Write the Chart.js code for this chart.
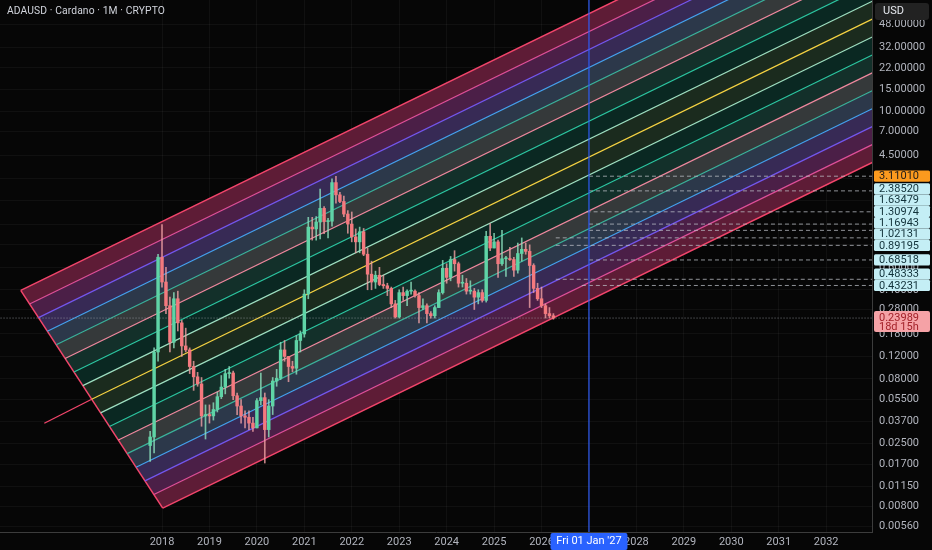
<!DOCTYPE html>
<html><head><meta charset="utf-8">
<script src="https://cdn.jsdelivr.net/npm/chart.js@4.4.1/dist/chart.umd.min.js"></script>
<style>
html,body{margin:0;padding:0;background:#060606;}
#wrap{position:relative;width:932px;height:550px;overflow:hidden;background:#060606;}
#title{position:absolute;left:7px;top:4px;font:10.3px Roboto,"Liberation Sans",sans-serif;color:#d1d4dc;white-space:nowrap;letter-spacing:0.1px;}
</style></head><body>
<div id="wrap"><canvas id="c" width="932" height="550"></canvas><div id="title">ADAUSD · Cardano · 1M · CRYPTO</div></div>
<script>
// ---------- data ----------
const months = [
 '2017-10','2017-11','2017-12',
 '2018-01','2018-02','2018-03','2018-04','2018-05','2018-06','2018-07','2018-08','2018-09','2018-10','2018-11','2018-12',
 '2019-01','2019-02','2019-03','2019-04','2019-05','2019-06','2019-07','2019-08','2019-09','2019-10','2019-11','2019-12',
 '2020-01','2020-02','2020-03','2020-04','2020-05','2020-06','2020-07','2020-08','2020-09','2020-10','2020-11','2020-12',
 '2021-01','2021-02','2021-03','2021-04','2021-05','2021-06','2021-07','2021-08','2021-09','2021-10','2021-11','2021-12',
 '2022-01','2022-02','2022-03','2022-04','2022-05','2022-06','2022-07','2022-08','2022-09','2022-10','2022-11','2022-12',
 '2023-01','2023-02','2023-03','2023-04','2023-05','2023-06','2023-07','2023-08','2023-09','2023-10','2023-11','2023-12',
 '2024-01','2024-02','2024-03','2024-04','2024-05','2024-06','2024-07','2024-08','2024-09','2024-10','2024-11','2024-12',
 '2025-01','2025-02','2025-03','2025-04','2025-05','2025-06','2025-07','2025-08','2025-09','2025-10','2025-11','2025-12',
 '2026-01','2026-02','2026-03','2026-04'];
const opens = [
 0.024,0.028,0.13,
 0.72,0.46,0.30,0.155,0.34,0.22,0.145,0.135,0.10,0.083,0.073,0.041,
 0.042,0.041,0.046,0.058,0.069,0.088,0.089,0.059,0.049,0.041,0.040,0.036,
 0.033,0.054,0.057,0.032,0.049,0.077,0.081,0.135,0.12,0.10,0.097,0.16,
 0.18,0.37,1.24,1.20,1.36,1.74,1.37,1.38,2.77,2.22,1.97,1.57,
 1.31,1.04,0.95,1.14,0.76,0.53,0.46,0.52,0.44,0.43,0.41,0.31,
 0.245,0.38,0.36,0.39,0.39,0.36,0.29,0.30,0.26,0.25,0.29,0.38,
 0.59,0.50,0.69,0.64,0.45,0.45,0.39,0.39,0.35,0.38,0.33,1.05,
 0.85,0.95,0.64,0.70,0.70,0.69,0.57,0.77,0.83,0.80,0.62,0.41,
 0.34,0.30,0.26,0.25];
const highs = [
 0.031,0.14,0.76,
 1.30,0.60,0.35,0.38,0.39,0.23,0.20,0.14,0.11,0.09,0.082,0.05,
 0.05,0.052,0.063,0.085,0.095,0.10,0.092,0.062,0.055,0.045,0.045,0.040,
 0.056,0.089,0.062,0.055,0.082,0.095,0.155,0.16,0.12,0.11,0.175,0.19,
 0.40,1.48,1.48,1.50,2.46,1.80,1.45,2.97,3.10,2.32,2.17,1.67,
 1.63,1.20,1.24,1.21,0.85,0.67,0.56,0.60,0.52,0.45,0.42,0.33,
 0.40,0.42,0.40,0.46,0.40,0.38,0.34,0.31,0.27,0.30,0.40,0.68,
 0.64,0.73,0.81,0.66,0.52,0.49,0.47,0.41,0.40,0.40,1.15,1.32,
 1.11,0.98,1.17,0.73,0.86,0.72,0.93,1.02,0.93,0.90,0.64,0.45,
 0.42,0.31,0.29,0.26];
const lows = [
 0.018,0.021,0.11,
 0.42,0.26,0.13,0.14,0.19,0.12,0.13,0.088,0.065,0.07,0.034,0.027,
 0.036,0.038,0.044,0.056,0.061,0.081,0.055,0.042,0.036,0.033,0.032,0.031,
 0.033,0.050,0.0175,0.028,0.042,0.070,0.079,0.11,0.076,0.091,0.087,0.13,
 0.17,0.34,0.98,0.98,1.00,1.10,1.02,1.26,1.91,1.93,1.50,1.11,
 0.95,0.78,0.78,0.74,0.40,0.40,0.41,0.43,0.41,0.36,0.29,0.24,
 0.24,0.33,0.30,0.37,0.35,0.22,0.28,0.22,0.24,0.24,0.29,0.37,
 0.45,0.47,0.56,0.42,0.42,0.37,0.37,0.28,0.31,0.32,0.32,0.81,
 0.85,0.50,0.62,0.51,0.68,0.51,0.54,0.67,0.76,0.29,0.38,0.33,
 0.29,0.24,0.24,0.235];
const closes = [
 0.028,0.13,0.72,
 0.46,0.30,0.155,0.34,0.22,0.145,0.135,0.10,0.083,0.073,0.041,0.042,
 0.041,0.046,0.058,0.069,0.088,0.089,0.059,0.049,0.041,0.040,0.036,0.033,
 0.054,0.057,0.032,0.049,0.077,0.081,0.135,0.12,0.10,0.097,0.16,0.18,
 0.37,1.24,1.20,1.36,1.74,1.37,1.38,2.77,2.22,1.97,1.57,1.31,
 1.04,0.95,1.14,0.76,0.53,0.46,0.52,0.44,0.43,0.41,0.31,0.245,
 0.38,0.36,0.39,0.39,0.36,0.29,0.30,0.26,0.25,0.29,0.38,0.59,
 0.50,0.69,0.64,0.45,0.45,0.39,0.39,0.35,0.38,0.33,1.05,0.85,
 0.95,0.64,0.70,0.70,0.69,0.57,0.77,0.83,0.80,0.62,0.41,0.34,
 0.30,0.26,0.25,0.23989];

const yearTicks = [2018,2019,2020,2021,2022,2023,2024,2025,2026,2027,2028,2029,2030,2031,2032];
const priceTicks = [48,32,22,15,10,7,4.5,3,2,1.3,0.9,0.6,0.4,0.28,0.18,0.12,0.08,0.055,0.037,0.025,0.017,0.0115,0.008,0.0056];

// rainbow channel: 17 parallel levels (top boundary first)
const channelStartTimes = [2015.022,2015.209,2015.396,2015.583,2015.770,2015.957,2016.144,2016.331,2016.518,2016.705,2016.892,2017.079,2017.266,2017.453,2017.641,2017.828,2018.015];
const channelStartPrices = [0.3953,0.3091,0.2418,0.1891,0.1480,0.1157,0.09052,0.07079,0.05538,0.04331,0.03388,0.02650,0.02073,0.01622,0.01268,0.00992,0.00776];
const channelEndTime = 2033;
const channelEndPrices = [715.7,517.8,374.6,270.9,196.0,141.8,102.6,74.24,53.70,38.85,28.11,20.33,14.71,10.64,7.699,5.570,4.030];
const channelColors = ['#f2456b','#e0509a','#7457ee','#45a3f0','#3bb39c','#f0899f','#2cc7a2','#9fe0c2','#f6d343','#9fe0c2','#2cc7a2','#f0899f','#3bb39c','#45a3f0','#7457ee','#e0509a','#f2456b'];
const bandColors = ['#5e1c36','#4b1f47','#372a55','#2c384a','#35393a','#13302a','#0a2822','#1b2b1e','#1b2b1e','#0a2822','#13302a','#35393a','#2c384a','#372a55','#4b1f47','#5e1c36'];
const trendExtTimes = [2015.519, 2016.518];
const trendExtPrices = [0.0359, 0.05538];

const levelPrices = [3.11010,2.38520,1.63479,1.30974,1.16943,1.02131,0.89195,0.68518,0.48333,0.43231];
const levelStarts = [2027.0,2027.0,2026.95,2027.0,2027.0,2026.3,2026.3,2027.0,2026.3,2026.85];
const lastPrice = 0.23989;
const countdown = '18d 15h';
const markerTime = 2027.0;
const markerLabel = "Fri 01 Jan '27";

const xMin = 2014.585, xMax = 2032.966;
const yMin = 0.005037, yMax = 74.93;

// ---------- build ----------
const times = months.map(m => { const [y, mo] = m.split('-').map(Number); return y + (mo - 1) / 12; });
const upCol = '#5fd4a6', dnCol = '#f4797e';
const upWick = 'rgba(140,225,190,0.8)', dnWick = 'rgba(240,160,164,0.8)';
const isUp = closes.map((c, i) => c >= opens[i]);

const datasets = [];
for (let i = 0; i < 16; i++) {
  datasets.push({
    type: 'line', order: 30,
    data: [
      {x: channelStartTimes[i], y: channelStartPrices[i]},
      {x: channelEndTime, y: channelEndPrices[i]},
      {x: channelEndTime, y: channelEndPrices[i + 1]},
      {x: channelStartTimes[i + 1], y: channelStartPrices[i + 1]}
    ],
    fill: 'shape', backgroundColor: bandColors[i], borderWidth: 0, borderColor: 'transparent',
    pointRadius: 0, tension: 0
  });
}
for (let k = 0; k < 17; k++) {
  datasets.push({
    type: 'line', order: 20,
    data: [{x: channelStartTimes[k], y: channelStartPrices[k]}, {x: channelEndTime, y: channelEndPrices[k]}],
    borderColor: channelColors[k], borderWidth: (k === 0 || k === 16) ? 1.5 : 1.2,
    pointRadius: 0, fill: false, tension: 0
  });
}
datasets.push({
  type: 'line', order: 20,
  data: [{x: channelStartTimes[0], y: channelStartPrices[0]}, {x: channelStartTimes[16], y: channelStartPrices[16]}],
  borderColor: channelColors[0], borderWidth: 1.5, pointRadius: 0, fill: false
});
datasets.push({
  type: 'line', order: 20,
  data: trendExtTimes.map((t, i) => ({x: t, y: trendExtPrices[i]})),
  borderColor: '#f2456b', borderWidth: 1.3, pointRadius: 0, fill: false
});
levelPrices.forEach((p, i) => {
  datasets.push({
    type: 'line', order: 12,
    data: [{x: levelStarts[i], y: p}, {x: xMax + 1, y: p}],
    borderColor: 'rgba(190,193,200,0.75)', borderWidth: 1, borderDash: [4, 3],
    pointRadius: 0, fill: false
  });
});
datasets.push({
  type: 'line', order: 12,
  data: [{x: xMin - 1, y: lastPrice}, {x: xMax + 1, y: lastPrice}],
  borderColor: 'rgba(170,172,180,0.7)', borderWidth: 1, borderDash: [1, 2],
  pointRadius: 0, fill: false
});
datasets.push({
  type: 'line', order: 10,
  data: [{x: markerTime, y: yMin}, {x: markerTime, y: yMax}],
  borderColor: '#2f5cf5', borderWidth: 1.2, pointRadius: 0, fill: false
});
datasets.push({
  type: 'bar', order: 2, grouped: false, barThickness: 1,
  data: times.map((t, i) => ({x: t, y: [lows[i], highs[i]]})),
  backgroundColor: isUp.map(u => u ? upWick : dnWick), borderWidth: 0
});
datasets.push({
  type: 'bar', order: 1, grouped: false, barThickness: 2.8, minBarLength: 1,
  data: times.map((t, i) => ({x: t, y: [Math.min(opens[i], closes[i]), Math.max(opens[i], closes[i])]})),
  backgroundColor: isUp.map(u => u ? upCol : dnCol), borderWidth: 0
});

function rbox(ctx, x, y, w, h, r, fill) {
  ctx.beginPath();
  if (ctx.roundRect) ctx.roundRect(x, y, w, h, r); else ctx.rect(x, y, w, h);
  ctx.fillStyle = fill; ctx.fill();
}

const labelPlugin = {
  id: 'axisLabels',
  afterDraw(chart) {
    const {ctx, chartArea} = chart;
    const xs = chart.scales.x, ys = chart.scales.y;
    const axL = chartArea.right;
    ctx.save();
    ctx.font = '11px Roboto, "Liberation Sans", sans-serif';
    ctx.textBaseline = 'middle';
    ctx.textAlign = 'left';
    rbox(ctx, axL + 3, 3, 54, 17, 3, '#222222');
    ctx.fillStyle = '#e6e8ee'; ctx.fillText('USD', axL + 11, 11.5);
    const h = 11.3;
    const items = levelPrices.map((p, i) => ({p, i, y: ys.getPixelForValue(p)})).sort((a, b) => b.y - a.y);
    let prev = Infinity;
    items.forEach(it => { it.ly = Math.min(it.y, prev - h); prev = it.ly; });
    items.forEach(it => {
      const orange = it.i === 0;
      rbox(ctx, axL + 2, it.ly - h / 2, 56, h, 1.5, orange ? '#fb9a1e' : '#c4eef5');
      ctx.fillStyle = orange ? '#1b1b1b' : '#12323a';
      ctx.fillText(it.p.toFixed(5), axL + 7, it.ly + 0.5);
    });
    const py = ys.getPixelForValue(lastPrice);
    rbox(ctx, axL + 2, py - 7, 56, 21, 2, '#f5a2a6');
    ctx.fillStyle = '#a3222a';
    ctx.fillText(lastPrice.toFixed(5), axL + 7, py);
    ctx.fillText(countdown, axL + 7, py + 9.5);
    const mx = xs.getPixelForValue(markerTime);
    rbox(ctx, mx - 38.5, chartArea.bottom + 1, 77, 550 - chartArea.bottom - 1, 2, '#2962ff');
    ctx.fillStyle = '#ffffff'; ctx.textAlign = 'center';
    ctx.fillText(markerLabel, mx, chartArea.bottom + 9.5);
    ctx.restore();
  }
};

new Chart(document.getElementById('c'), {
  type: 'line',
  data: {datasets},
  options: {
    responsive: false, animation: false, events: [],
    layout: {padding: 0},
    plugins: {legend: {display: false}, tooltip: {enabled: false}, title: {display: false}},
    scales: {
      x: {
        type: 'linear', min: xMin, max: xMax, offset: false,
        afterBuildTicks: s => { s.ticks = yearTicks.map(v => ({value: v})); },
        afterFit: s => { s.height = 18; s.paddingLeft = 0; s.paddingRight = 0; s.paddingTop = 0; s.paddingBottom = 0; },
        ticks: {autoSkip: false, maxRotation: 0, padding: 4, color: '#b2b5be',
          font: {family: 'Roboto, "Liberation Sans", sans-serif', size: 11},
          callback: v => String(v)},
        grid: {color: 'rgba(255,255,255,0.045)', drawTicks: false, offset: false},
        border: {display: true, color: '#3c3c3c'}
      },
      y: {
        type: 'logarithmic', position: 'right', min: yMin, max: yMax,
        afterBuildTicks: s => { s.ticks = priceTicks.map(v => ({value: v})); },
        afterFit: s => { s.width = 60; s.paddingTop = 0; s.paddingBottom = 0; s.paddingLeft = 0; s.paddingRight = 0; },
        ticks: {autoSkip: false, padding: 7, color: '#b2b5be',
          font: {family: 'Roboto, "Liberation Sans", sans-serif', size: 11},
          callback: v => Number(v).toFixed(5)},
        grid: {color: 'rgba(255,255,255,0.045)', drawTicks: false},
        border: {display: true, color: '#3c3c3c'}
      }
    }
  },
  plugins: [labelPlugin]
});
</script>
</body></html>
